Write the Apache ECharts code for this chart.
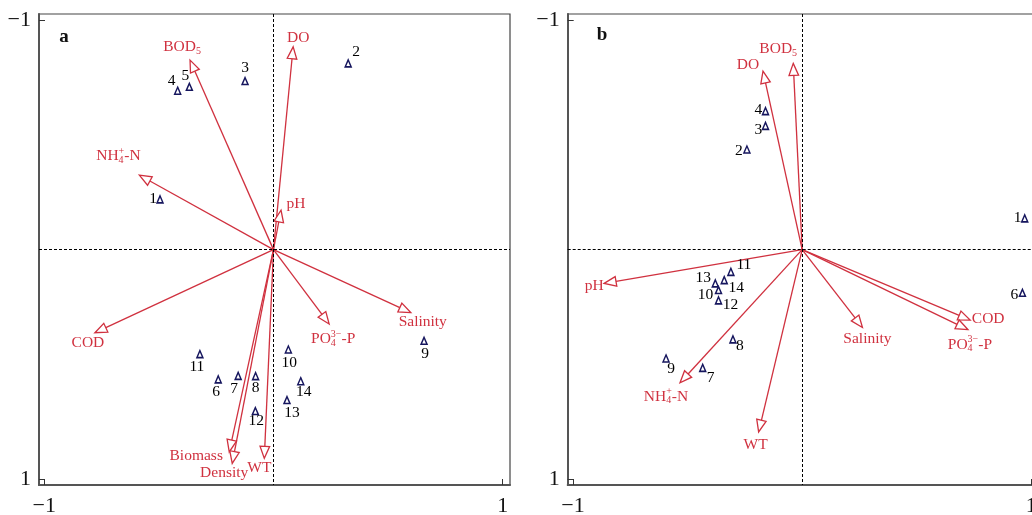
<!DOCTYPE html>
<html><head><meta charset="utf-8">
<script src="https://cdn.jsdelivr.net/npm/echarts@6/dist/echarts.min.js"></script>
<style>html,body{margin:0;padding:0;background:#fff}#c{width:1032px;height:515px}</style>
</head><body><div id="c"></div>
<script>
// ---------- DATA ----------
// Panel a: environmental variable vectors (RDA axis 1, axis 2)
const varNamesA = ['BOD5','DO','NH4+-N','pH','COD','PO43--P','Salinity','Biomass','Density','WT'];
const varXA = [-0.364, 0.086, -0.585, 0.033, -0.779, 0.243, 0.599, -0.193, -0.180, -0.040];
const varYA = [-0.825, -0.883, -0.324, -0.172, 0.362, 0.324, 0.274, 0.881, 0.931, 0.909];
// Panel a: sites
const siteIdsA = ['1','2','3','4','5','6','7','8','9','10','11','12','13','14'];
const siteXA = [-0.495, 0.326, -0.124, -0.418, -0.367, -0.241, -0.154, -0.078, 0.657, 0.065, -0.321, -0.079, 0.059, 0.119];
const siteYA = [-0.219, -0.811, -0.734, -0.692, -0.709, 0.565, 0.550, 0.551, 0.397, 0.435, 0.455, 0.703, 0.655, 0.573];
// Panel b: environmental variable vectors
const varNamesB = ['DO','BOD5','pH','NH4+-N','WT','Salinity','COD','PO43--P'];
const varXB = [-0.171, -0.039, -0.864, -0.533, -0.190, 0.263, 0.733, 0.723];
const varYB = [-0.777, -0.811, 0.147, 0.580, 0.794, 0.339, 0.307, 0.348];
// Panel b: sites
const siteIdsB = ['1','2','3','4','6','7','8','9','10','11','12','13','14'];
const siteXB = [0.971, -0.241, -0.160, -0.160, 0.961, -0.434, -0.302, -0.594, -0.365, -0.311, -0.365, -0.379, -0.340];
const siteYB = [-0.136, -0.436, -0.539, -0.603, 0.188, 0.515, 0.391, 0.474, 0.176, 0.097, 0.221, 0.147, 0.133];
// Axis tick labels
const tickValues = [-1, 1];
const tickLabels = ['−1', '1'];

// ---------- LAYOUT (label offsets in px, not data) ----------
const varLabelOffA = [[-8,-13],[5,-9],[-21,-19],[15,-6],[-7,10],[4,15],[12,9],[-33,4],[-8,10],[-5,10]];
const varLabelOffB = [[-15,-6],[-15,-14],[-10,3],[-14,14],[-3,13],[5,11],[18,-1],[2,15]];
const siteLabelOffA = [[-7,0],[8,-11],[0,-13],[-6,-10],[-4,-11],[-2,13],[-4,13],[0,12],[1,13],[1,13],[-3,13],[1,10],[5,13],[3,11]];
const siteLabelOffB = [[-7,0],[-8,1],[-7,4],[-7,-1],[-8,2],[8,10],[7,7],[5,10],[-13,5],[13,-7],[12,5],[-12,-5],[12,8]];

// ---------- STYLE ----------
const RED = '#d0313f';
const NAVY = '#16165e';
const FONT = '"Liberation Serif", "Times New Roman", serif';
const PIECES = {
  'BOD5': [['t','BOD'],['sub','5']],
  'NH4+-N': [['t','NH'],['ss','+','4'],['t','-N']],
  'PO43--P': [['t','PO'],['ss','3−','4'],['t','-P']]
};
const mctx = document.createElement('canvas').getContext('2d');
function tw(s, size){ mctx.font = size + 'px ' + FONT; return mctx.measureText(s).width; }
function txt(s, x, y, size){
  return {type:'text', x:x, y:y, style:{text:s, fill:RED, fontSize:size, fontFamily:FONT, align:'left', verticalAlign:'middle'}};
}
function richLabel(name, cx, cy){
  const pieces = PIECES[name] || [['t', name]];
  const F = 15.5, S = 10;
  const widths = pieces.map(p => p[0]==='t' ? tw(p[1],F) : p[0]==='sub' ? tw(p[1],S) : Math.max(tw(p[1],S), tw(p[2],S)));
  const total = widths.reduce((a,b)=>a+b, 0);
  let x = cx - total/2; const els = [];
  pieces.forEach((p,k) => {
    if (p[0]==='t') els.push(txt(p[1], x, cy, F));
    else if (p[0]==='sub') els.push(txt(p[1], x, cy+4, S));
    else { els.push(txt(p[1], x, cy-5, S)); els.push(txt(p[2], x, cy+4, S)); }
    x += widths[k];
  });
  return els;
}
function arrowRender(names, offsets){
  return function(params, api){
    const i = params.dataIndex;
    const o = api.coord([0,0]);
    const t = api.coord([api.value(0), api.value(1)]);
    const dx = t[0]-o[0], dy = t[1]-o[1];
    const len = Math.hypot(dx,dy); const ux = dx/len, uy = dy/len;
    const L = 12, W = 4.8;
    const bx = t[0]-ux*L, by = t[1]-uy*L;
    const px = -uy, py = ux;
    const children = [
      {type:'line', shape:{x1:o[0], y1:o[1], x2:bx, y2:by}, style:{stroke:RED, lineWidth:1.3}},
      {type:'polygon', shape:{points:[[t[0],t[1]],[bx+px*W,by+py*W],[bx-px*W,by-py*W]]}, style:{fill:'#fff', stroke:RED, lineWidth:1.3}}
    ];
    const off = offsets[i];
    richLabel(names[i], t[0]+off[0], t[1]+off[1]).forEach(e => children.push(e));
    return {type:'group', children: children};
  };
}
function siteData(ids, xs, ys, offs){
  return ids.map((id,i) => ({name:id, value:[xs[i], ys[i]], label:{offset:offs[i]}}));
}
function axisX(gi){
  return {type:'value', gridIndex:gi, min:-1.023, max:1.032, splitLine:{show:false},
    axisLine:{show:true, onZero:false, lineStyle:{color:'#555', width:2}},
    axisTick:{show:true, inside:true, length:6, customValues:tickValues, lineStyle:{color:'#333', width:1}},
    axisLabel:{show:true, customValues:tickValues, margin:10, color:'#111', fontSize:22, fontFamily:FONT,
      formatter: v => tickLabels[tickValues.indexOf(v)] ?? ''}};
}
function axisY(gi){
  return {type:'value', gridIndex:gi, inverse:true, min:-1.026, max:1.025, splitLine:{show:false},
    axisLine:{show:true, onZero:false, lineStyle:{color:'#555', width:2}},
    axisTick:{show:true, inside:true, length:6, customValues:tickValues, lineStyle:{color:'#333', width:1}},
    axisLabel:{show:true, customValues:tickValues, margin:8, color:'#111', fontSize:22, fontFamily:FONT,
      formatter: v => tickLabels[tickValues.indexOf(v)] ?? ''}};
}
const markLineCfg = {silent:true, symbol:'none', label:{show:false},
  lineStyle:{type:[3,2], color:'#000', width:1, opacity:1}, data:[{xAxis:0},{yAxis:0}]};
const siteSeriesBase = {type:'scatter', symbol:'triangle', symbolSize:[6,7],
  itemStyle:{color:'#fff', borderColor:NAVY, borderWidth:1.5, opacity:1},
  label:{show:true, position:'inside', formatter:'{b}', color:'#000', opacity:1, fontSize:15.5, fontFamily:FONT, textBorderWidth:0},
  emphasis:{disabled:true},
  z:5};

const chart = echarts.init(document.getElementById('c'), null, {renderer:'canvas'});
chart.setOption({
  animation:false,
  backgroundColor:'#fff',
  grid:[
    {left:39, top:14, width:471, height:471, show:true, borderColor:'#444', borderWidth:1.2, outerBoundsMode:'none', containLabel:false},
    {left:567.7, top:14, width:471, height:471, show:true, borderColor:'#444', borderWidth:1.2, outerBoundsMode:'none', containLabel:false}
  ],
  xAxis:[axisX(0), axisX(1)],
  yAxis:[axisY(0), axisY(1)],
  graphic:[
    {type:'text', x:64, y:37, style:{text:'a', fontSize:19, fontWeight:'bold', fontFamily:FONT, fill:'#111', align:'center', verticalAlign:'middle'}},
    {type:'text', x:602, y:35, style:{text:'b', fontSize:19, fontWeight:'bold', fontFamily:FONT, fill:'#111', align:'center', verticalAlign:'middle'}}
  ],
  series:[
    Object.assign({}, siteSeriesBase, {xAxisIndex:0, yAxisIndex:0, data:siteData(siteIdsA, siteXA, siteYA, siteLabelOffA), markLine:markLineCfg}),
    Object.assign({}, siteSeriesBase, {xAxisIndex:1, yAxisIndex:1, data:siteData(siteIdsB, siteXB, siteYB, siteLabelOffB), markLine:markLineCfg}),
    {type:'custom', xAxisIndex:0, yAxisIndex:0, renderItem:arrowRender(varNamesA, varLabelOffA),
      data:varXA.map((x,i)=>[x, varYA[i]]), z:4},
    {type:'custom', xAxisIndex:1, yAxisIndex:1, renderItem:arrowRender(varNamesB, varLabelOffB),
      data:varXB.map((x,i)=>[x, varYB[i]]), z:4}
  ]
});
</script></body></html>
